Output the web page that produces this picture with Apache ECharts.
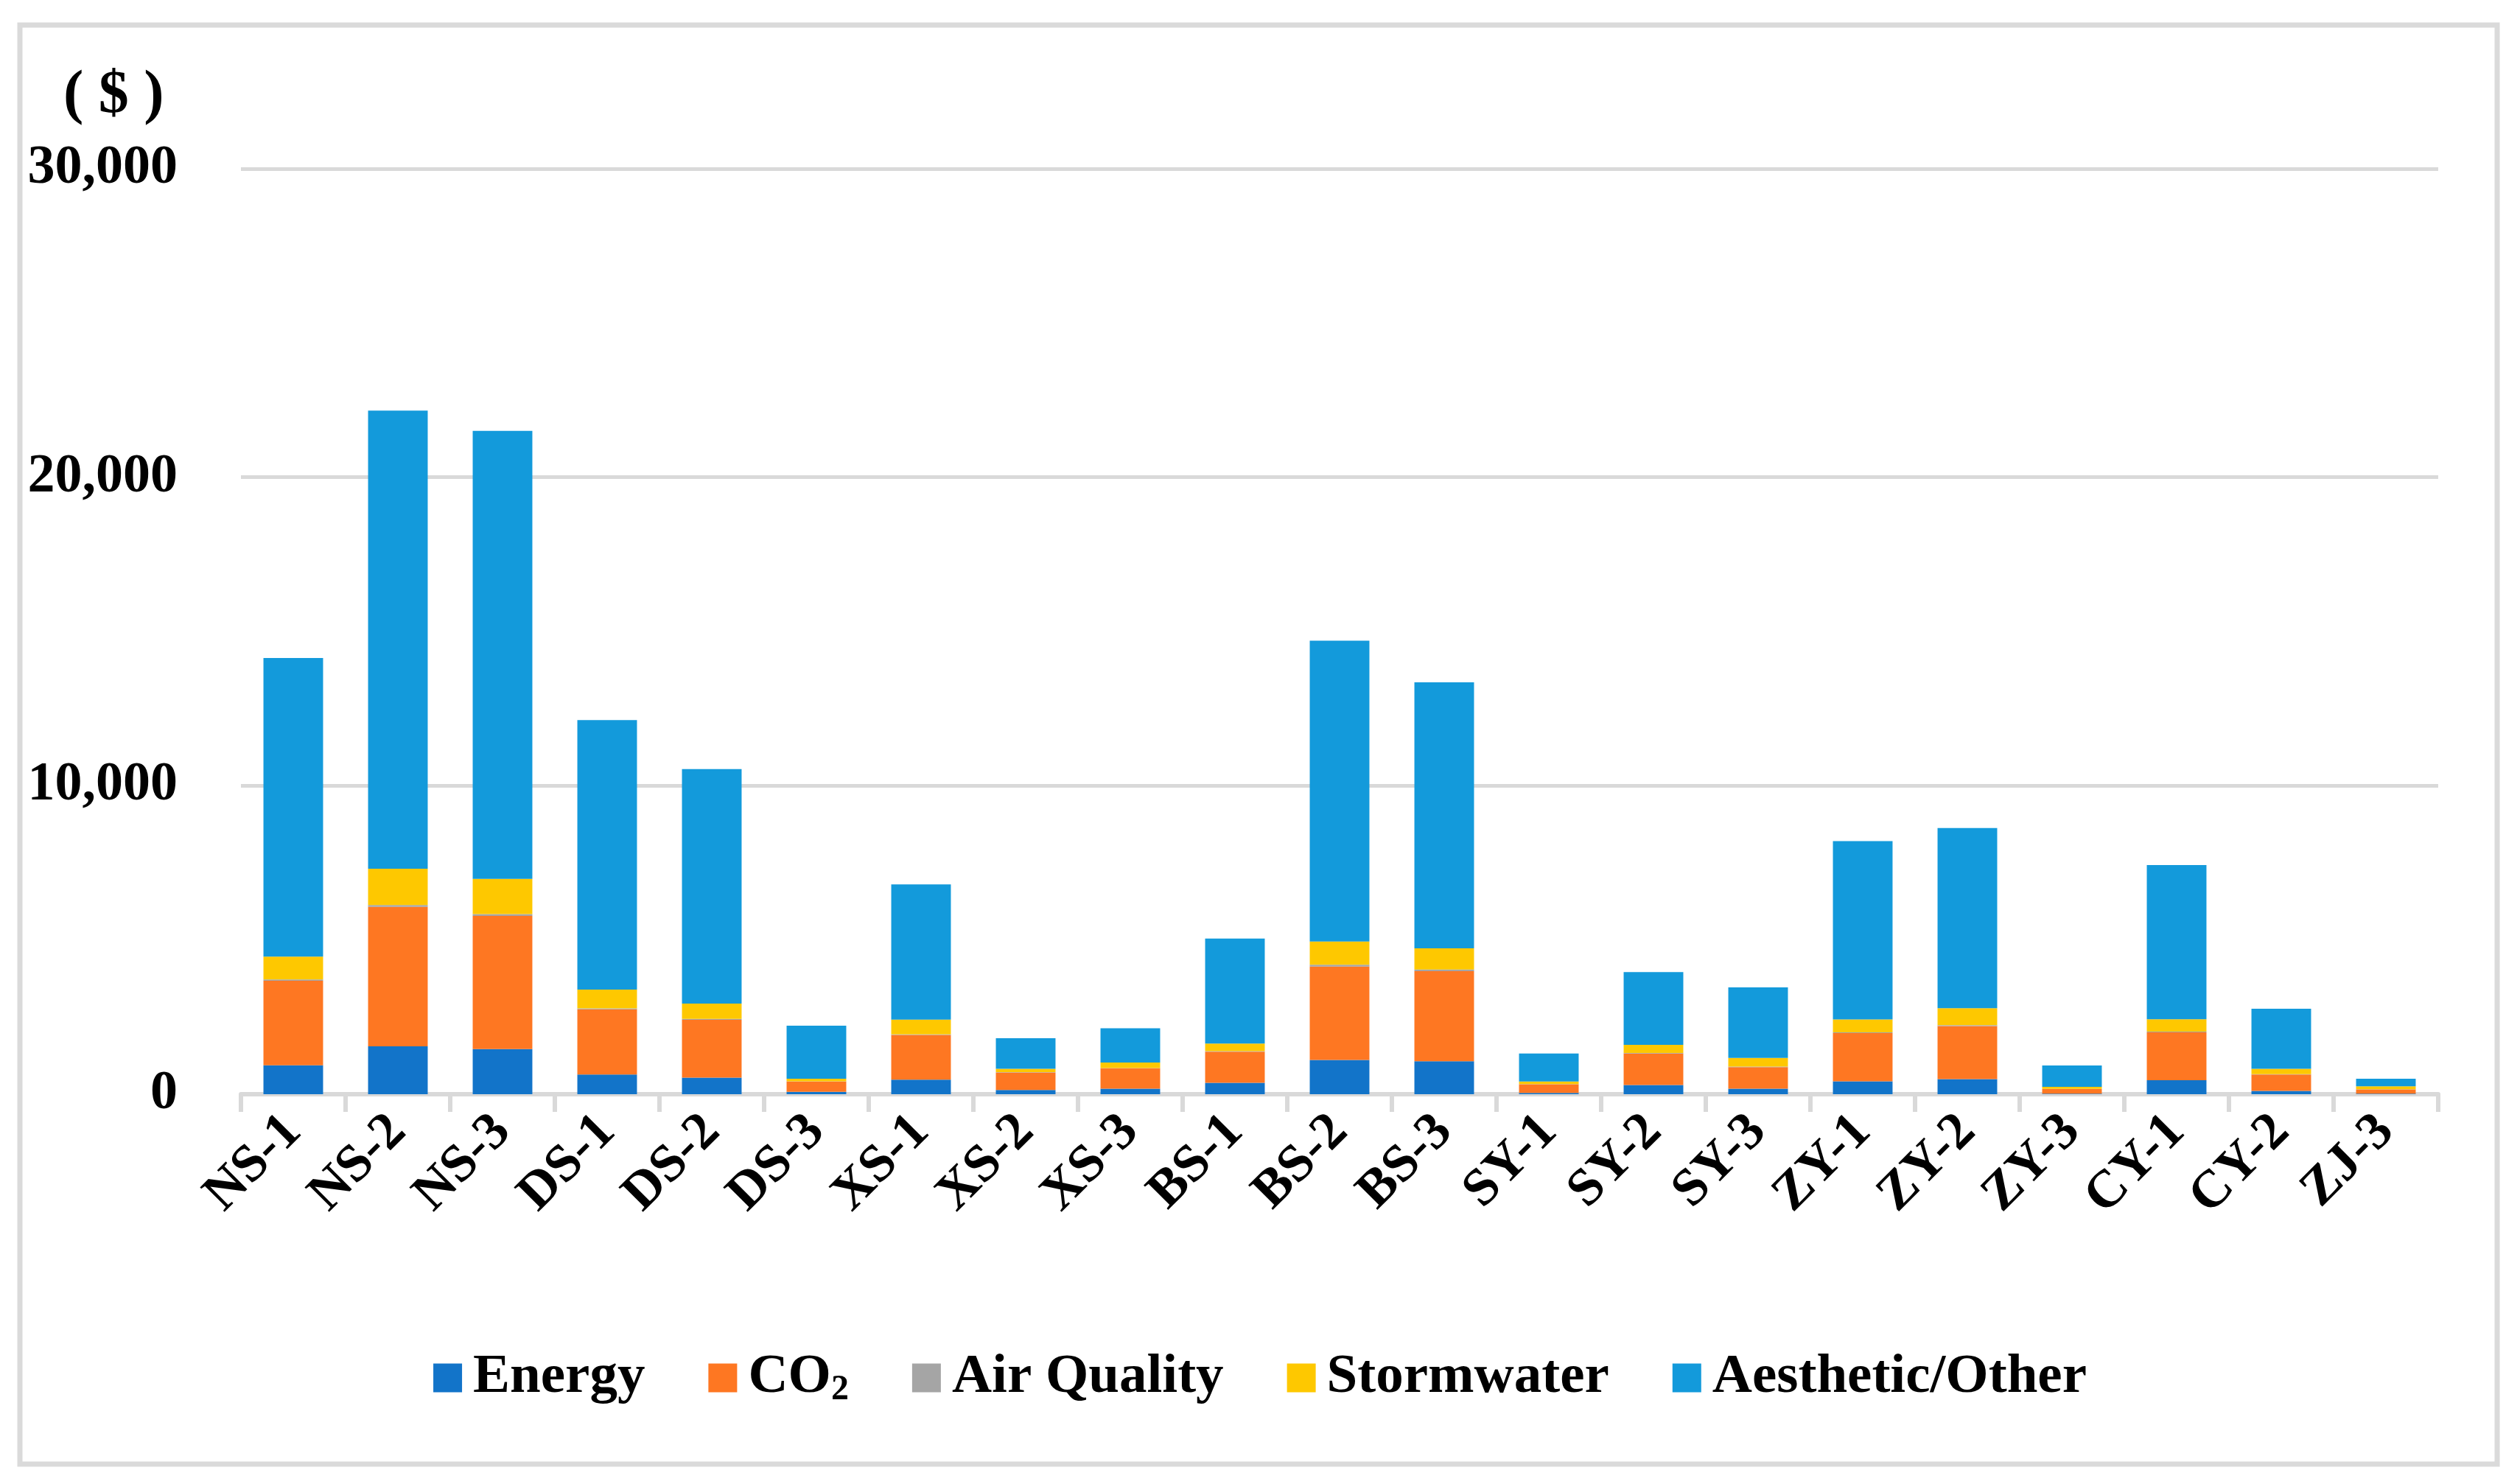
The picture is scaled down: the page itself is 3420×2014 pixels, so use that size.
<!DOCTYPE html>
<html>
<head>
<meta charset="utf-8">
<script src="https://cdn.jsdelivr.net/npm/echarts@6/dist/echarts.min.js"></script>
<style>
html,body{margin:0;padding:0;background:#fff;}
#chart{width:3420px;height:2014px;}
</style>
</head>
<body>
<div id="chart"></div>
<script>
const categories = ['NS-1','NS-2','NS-3','DS-1','DS-2','DS-3','XS-1','XS-2','XS-3','BS-1','BS-2','BS-3','SY-1','SY-2','SY-3','ZY-1','ZY-2','ZY-3','CY-1','CY-2','ZJ-3'];
const energy     = [940, 1550, 1460, 640, 540, 80, 470, 135, 180, 370, 1110, 1070, 40, 300, 180, 420, 490, 20, 455, 110, 15];
const co2        = [2740, 4520, 4320, 2110, 1870, 330, 1450, 570, 660, 1010, 3030, 2920, 280, 1020, 700, 1560, 1720, 150, 1550, 530, 140];
const airQuality = [40, 60, 60, 30, 30, 10, 20, 10, 10, 20, 60, 50, 10, 20, 15, 25, 30, 5, 25, 10, 5];
const stormwater = [740, 1180, 1140, 610, 500, 80, 480, 110, 180, 245, 750, 690, 80, 260, 280, 420, 550, 65, 400, 175, 95];
const aesthetic  = [9680, 14850, 14520, 8740, 7600, 1720, 4380, 990, 1110, 3400, 9750, 8620, 910, 2360, 2290, 5780, 5840, 690, 5000, 1945, 245];
const yTicks = [0, 10000, 20000, 30000];

const seriesNames = ['Energy', 'CO2', 'Air Quality', 'Stormwater', 'Aesthetic/Other'];
const seriesData = [energy, co2, airQuality, stormwater, aesthetic];
const colors = ['#1274C9', '#FE7722', '#A5A5A5', '#FEC800', '#139ADB'];

const font = '"Liberation Serif", "Times New Roman", serif';
const chart = echarts.init(document.getElementById('chart'), null, {renderer: 'canvas'});

const option = {
  backgroundColor: '#ffffff',
  animation: false,
  color: colors,
  grid: {left: 327, right: 111, top: 229, bottom: 529, containLabel: false},
  graphic: [
    {type: 'rect', shape: {x: 27, y: 34, width: 3362, height: 1953},
     style: {fill: 'none', stroke: '#DADADA', lineWidth: 7}, z: -1},
    {type: 'text', left: 86, top: 90,
     style: {text: '( $ )', font: 'bold 82px ' + font, fill: '#000'}}
  ],
  legend: {
    bottom: 98,
    left: 'center',
    itemWidth: 39,
    itemHeight: 39,
    itemGap: 86,
    icon: 'rect',
    textStyle: {
      fontFamily: font, fontWeight: 'bold', fontSize: 75, color: '#000', padding: [0,0,0,10],
      rich: {
        n: {fontFamily: font, fontWeight: 'bold', fontSize: 75, color: '#000'},
        sub: {fontFamily: font, fontWeight: 'bold', fontSize: 48, color: '#000', verticalAlign: 'bottom', padding: [34,0,0,0]}
      }
    },
    formatter: function (name) {
      if (name === 'CO2') return '{n|CO}{sub|2}';
      return '{n|' + name + '}';
    }
  },
  xAxis: {
    type: 'category',
    data: categories,
    boundaryGap: true,
    axisLine: {show: true, lineStyle: {color: '#D9D9D9', width: 6}},
    axisTick: {show: true, alignWithLabel: false, length: 24, lineStyle: {color: '#D9D9D9', width: 6}},
    axisLabel: {
      interval: 0, rotate: 45, margin: 40,
      fontFamily: font, fontWeight: 'bold', fontSize: 72, color: '#000'
    }
  },
  yAxis: {
    type: 'value',
    min: 0, max: 30000, interval: 10000,
    axisLine: {show: false},
    axisTick: {show: false},
    splitLine: {show: true, lineStyle: {color: '#D9D9D9', width: 5}},
    axisLabel: {
      margin: 86,
      fontFamily: font, fontWeight: 'bold', fontSize: 74, color: '#000',
      formatter: function (v) { return yTicks.indexOf(v) >= 0 ? v.toLocaleString('en-US') : ''; }
    }
  },
  series: seriesNames.map(function (n, i) {
    return {
      name: n, type: 'bar', stack: 'total', barWidth: '57%',
      data: seriesData[i],
      itemStyle: {color: colors[i]}
    };
  })
};
chart.setOption(option);
</script>
</body>
</html>
